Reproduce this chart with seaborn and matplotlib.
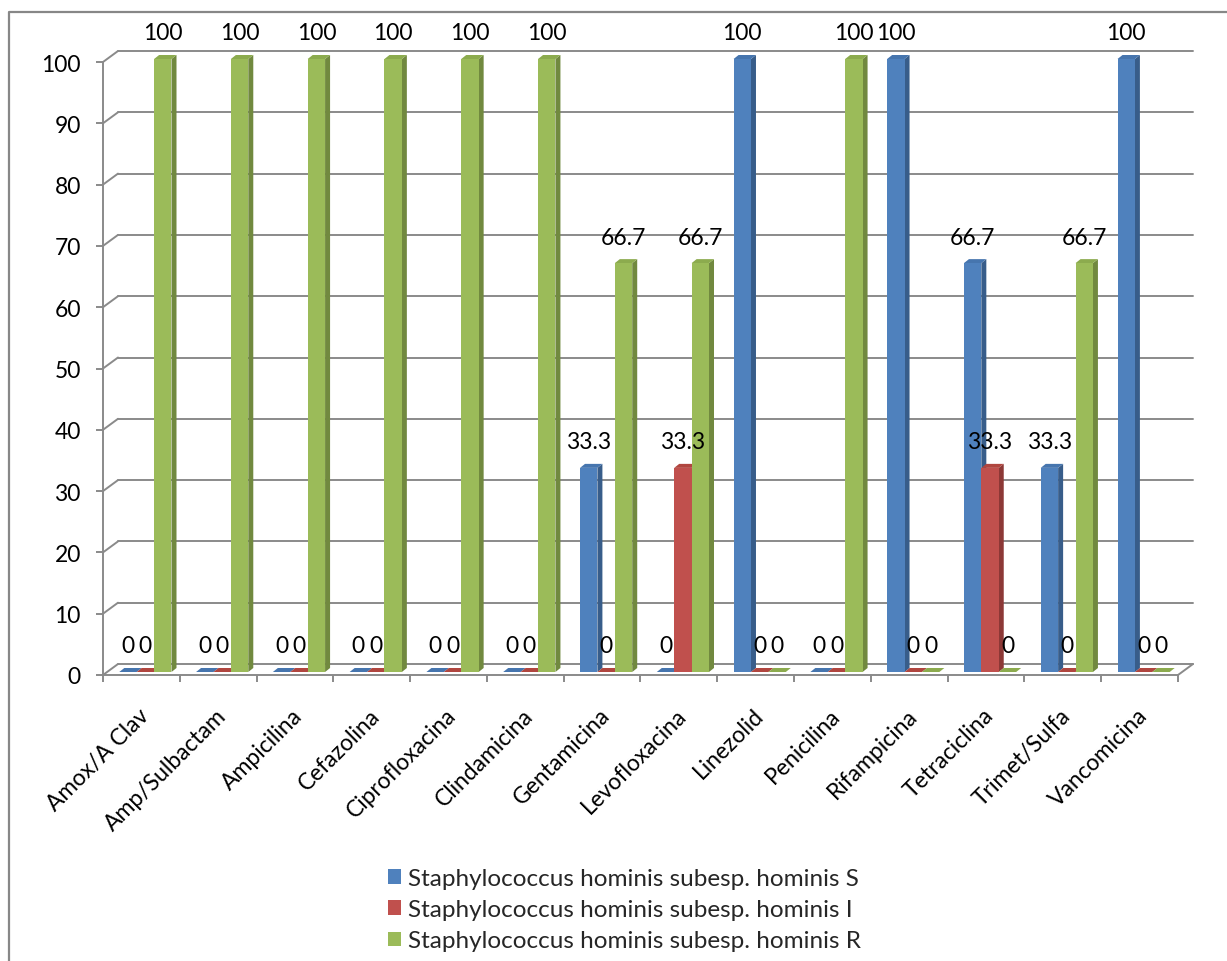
import numpy as np
import pandas as pd
import matplotlib
matplotlib.use("Agg")
import matplotlib.pyplot as plt
import seaborn as sns
from matplotlib.patches import Polygon, Patch
from matplotlib.lines import Line2D
from matplotlib.transforms import IdentityTransform, ScaledTranslation

# ---- data -------------------------------------------------------------
categories = ["Amox/A Clav", "Amp/Sulbactam", "Ampicilina", "Cefazolina",
              "Ciprofloxacina", "Clindamicina", "Gentamicina", "Levofloxacina",
              "Linezolid", "Penicilina", "Rifampicina", "Tetraciclina",
              "Trimet/Sulfa", "Vancomicina"]
series_names = ["Staphylococcus hominis subesp. hominis S",
                "Staphylococcus hominis subesp. hominis I",
                "Staphylococcus hominis subesp. hominis R"]
values_s = [0, 0, 0, 0, 0, 0, 33.3, 0, 100, 0, 100, 66.7, 33.3, 100]
values_i = [0, 0, 0, 0, 0, 0, 0, 33.3, 0, 0, 0, 33.3, 0, 0]
values_r = [100, 100, 100, 100, 100, 100, 66.7, 66.7, 0, 100, 0, 0, 66.7, 0]
y_ticks = list(range(0, 101, 10))

# ---- style ------------------------------------------------------------
front_colors = ["#4F81BD", "#C0504D", "#9BBB59"]
side_colors = ["#385D8A", "#8C3836", "#71893F"]
top_colors = ["#4675AE", "#B0463F", "#8CAB4E"]
GRID = "#8A8A8A"
FS = 16.5

W, H, DPI = 1227, 962, 100
BAR_OFF = (4, 3)      # bars sit slightly behind the front plane (px)
BAR_DEPTH = (5, 4)    # depth of each column (px)
WALL = (15, 11)       # depth of the floor / back wall (px)

sns.set_theme(style="white")
plt.rcParams["font.family"] = ["Lato", "DejaVu Sans"]

df = pd.DataFrame({
    "Antibiótico": categories * 3,
    "Serie": np.repeat(series_names, len(categories)),
    "Porcentaje": values_s + values_i + values_r,
})

fig = plt.figure(figsize=(W / DPI, H / DPI), dpi=DPI)
fig.patch.set_facecolor("white")
ax = fig.add_axes([103 / W, (H - 676) / H, (1178 - 103) / W, (676 - 63) / H])

sns.barplot(data=df, x="Antibiótico", y="Porcentaje", hue="Serie",
            order=categories, hue_order=series_names, palette=front_colors,
            saturation=1, width=0.68, errorbar=None, legend=False, ax=ax)

ax.set_xlim(-0.5, len(categories) - 0.5)
ax.set_ylim(0, 100)
ax.set_xlabel("")
ax.set_ylabel("")
ax.set_facecolor("none")
ax.autoscale(False)

for s in ["top", "right"]:
    ax.spines[s].set_visible(False)
for s in ["left", "bottom"]:
    ax.spines[s].set_color(GRID)
    ax.spines[s].set_linewidth(1.4)

ax.set_yticks(y_ticks)
ax.tick_params(axis="y", left=True, length=5, width=1.4, color=GRID,
               pad=11, labelsize=FS, labelcolor="black")
ax.set_xticks(range(len(categories)))
ax.set_xticklabels(categories, rotation=45, ha="right", va="top",
                   rotation_mode="anchor")
ax.set_xticks(np.arange(-0.5, len(categories)), minor=True)
ax.tick_params(axis="x", which="major", bottom=True, length=0, pad=21,
               labelsize=FS, labelcolor="black")
ax.tick_params(axis="x", which="minor", bottom=True, length=5, width=1.4,
               color=GRID)
shift = ScaledTranslation(-3 / DPI, 0, fig.dpi_scale_trans)
for lbl in ax.get_xticklabels():
    lbl.set_transform(lbl.get_transform() + shift)


def to_px(x, y):
    return ax.transData.transform((x, y))


# ---- floor and back wall -------------------------------------------------
x0, y0 = to_px(-0.5, 0)
x1, _ = to_px(len(categories) - 0.5, 0)
for v in y_ticks:
    _, yv = to_px(-0.5, v)
    ax.add_line(Line2D([x0 + WALL[0], x1 + WALL[0]], [yv + WALL[1]] * 2,
                       transform=IdentityTransform(), color=GRID, lw=1.4,
                       clip_on=False, zorder=1))
    ax.add_line(Line2D([x0, x0 + WALL[0]], [yv, yv + WALL[1]],
                       transform=IdentityTransform(), color=GRID, lw=1.4,
                       clip_on=False, zorder=1))
ax.add_line(Line2D([x1, x1 + WALL[0]], [y0, y0 + WALL[1]],
                   transform=IdentityTransform(), color=GRID, lw=1.4,
                   clip_on=False, zorder=1))

# ---- 3-D columns ---------------------------------------------------------
bar_shift = ScaledTranslation(BAR_OFF[0] / DPI, BAR_OFF[1] / DPI,
                              fig.dpi_scale_trans)
dx, dy = BAR_DEPTH
for si, cont in enumerate(ax.containers):
    for ci, rect in enumerate(cont.patches):
        value = rect.get_height()
        xl, yb = to_px(rect.get_x(), 0)
        xr, yt = to_px(rect.get_x() + rect.get_width(), value)
        xl += BAR_OFF[0]
        xr += BAR_OFF[0]
        yb += BAR_OFF[1]
        yt += BAR_OFF[1]
        z = 3 + (ci * 3 + si) * 0.01
        rect.set_transform(ax.transData + bar_shift)
        rect.set_linewidth(0)
        rect.set_edgecolor("none")
        rect.set_zorder(z + 0.005)
        rect.set_clip_on(False)
        side = Polygon([(xr, yb), (xr + dx, yb + dy), (xr + dx, yt + dy), (xr, yt)],
                       closed=True, transform=IdentityTransform(),
                       facecolor=side_colors[si], edgecolor="none",
                       zorder=z, clip_on=False)
        top = Polygon([(xl, yt), (xr, yt), (xr + dx, yt + dy), (xl + dx, yt + dy)],
                      closed=True, transform=IdentityTransform(),
                      facecolor=top_colors[si], edgecolor="none",
                      zorder=z, clip_on=False)
        ax.add_patch(side)
        ax.add_patch(top)
        ax.annotate(f"{value:g}",
                    xy=(rect.get_x() + rect.get_width() / 2, value),
                    xytext=(BAR_OFF[0] * 0.72, 29 * 0.72),
                    textcoords="offset points", ha="center", va="center",
                    fontsize=FS, color="black", annotation_clip=False,
                    zorder=10)

# ---- legend ----------------------------------------------------------------
handles = [Patch(facecolor=c, edgecolor="none") for c in front_colors]
fig.legend(handles, series_names, loc="upper left",
           bbox_to_anchor=(388 / W, 1 - 869 / H), frameon=False,
           fontsize=17.5, handlelength=0.54, handleheight=0.54,
           handletextpad=0.3, labelspacing=0.42, borderpad=0,
           borderaxespad=0)

# ---- chart frame -----------------------------------------------------------
fig.add_artist(Line2D([9 / W, 9 / W, 1.0], [0.0, 1 - 13 / H, 1 - 13 / H],
                      transform=fig.transFigure, color="#878787", lw=1.6))

fig.savefig("out.png", dpi=DPI, facecolor="white")
